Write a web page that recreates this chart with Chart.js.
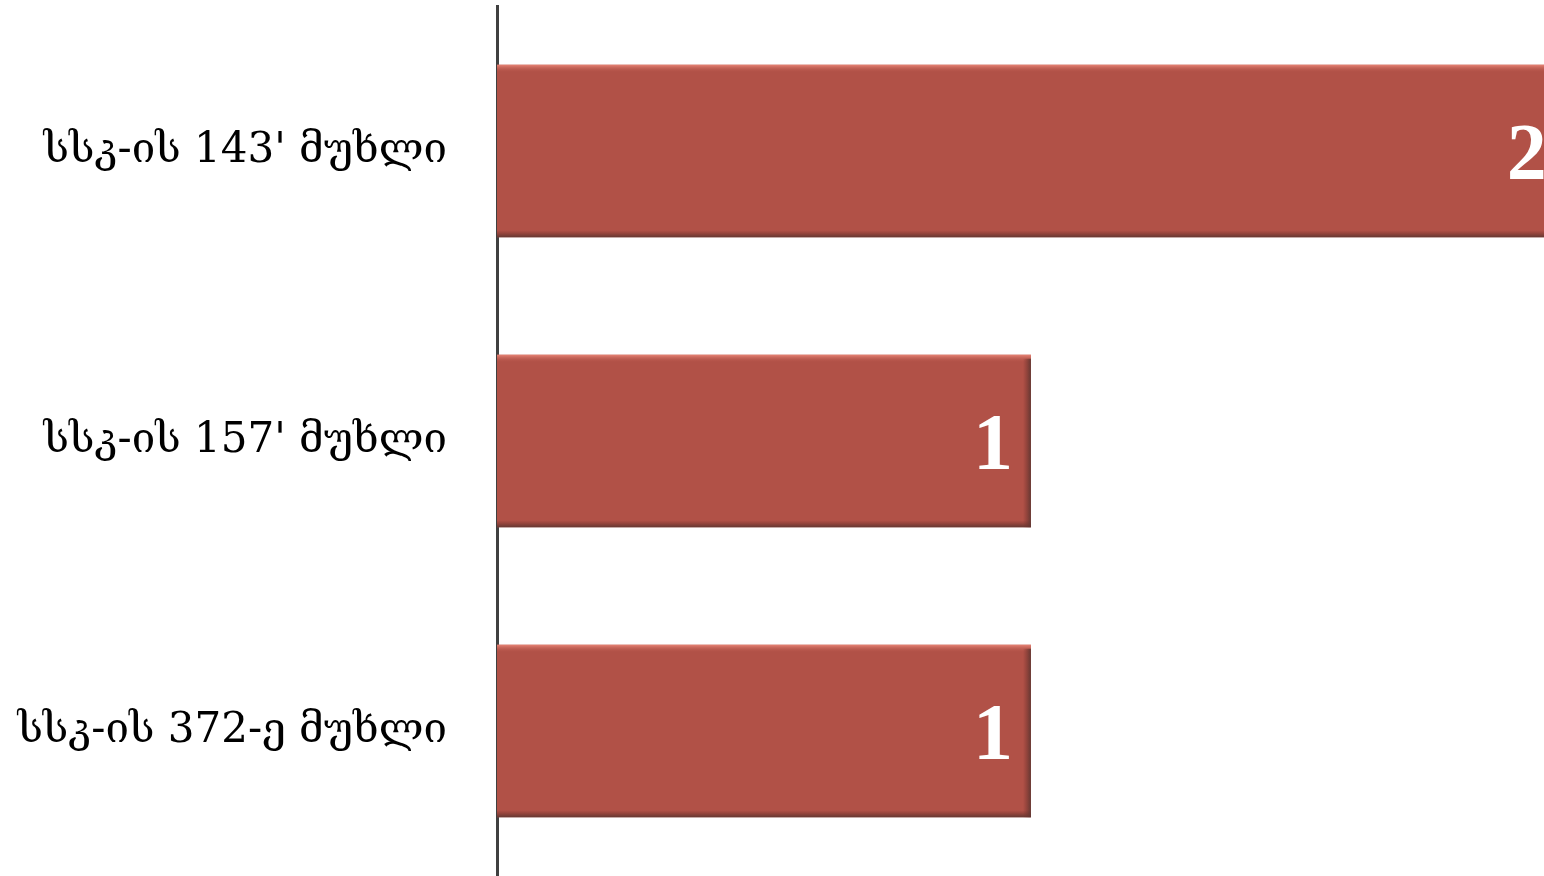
<!DOCTYPE html>
<html>
<head>
<meta charset="utf-8">
<script src="https://cdn.jsdelivr.net/npm/chart.js@4/dist/chart.umd.min.js"></script>
<style>
  html, body { margin: 0; padding: 0; background: #fff; overflow: hidden; }
  canvas { display: block; }
</style>
</head>
<body>
<canvas id="chart" width="1544" height="876"></canvas>
<script>
// --- データ ---
const categories = ["სსკ-ის 143' მუხლი", "სსკ-ის 157' მუხლი", "სსკ-ის 372-ე მუხლი"];
const counts = [2, 1, 1];

const barColor = '#B15147';

// バーの立体感（ベベル）を描くプラグイン
const bevelPlugin = {
    id: 'bevel',
    afterDatasetsDraw(chart) {
        const ctx = chart.ctx;
        const meta = chart.getDatasetMeta(0);
        ctx.save();
        meta.data.forEach(bar => {
            const x0 = bar.base, x1 = bar.x;
            const y0 = bar.y - bar.height / 2, y1 = bar.y + bar.height / 2;
            // 上側のハイライト
            let g = ctx.createLinearGradient(0, y0, 0, y0 + 8);
            g.addColorStop(0, 'rgba(235,135,120,0.95)');
            g.addColorStop(1, 'rgba(177,81,71,0)');
            ctx.fillStyle = g;
            ctx.fillRect(x0, y0, x1 - x0, 8);
            // 下側の影
            g = ctx.createLinearGradient(0, y1 - 7, 0, y1);
            g.addColorStop(0, 'rgba(120,50,44,0)');
            g.addColorStop(1, 'rgba(95,55,50,0.95)');
            ctx.fillStyle = g;
            ctx.fillRect(x0, y1 - 7, x1 - x0, 7);
            // 右側の影
            g = ctx.createLinearGradient(x1 - 8, 0, x1, 0);
            g.addColorStop(0, 'rgba(120,50,44,0)');
            g.addColorStop(1, 'rgba(95,55,50,0.95)');
            ctx.fillStyle = g;
            ctx.fillRect(x1 - 8, y0 + 4, 8, y1 - y0 - 4);
        });
        ctx.restore();
    }
};

// 値ラベル（バー内側右寄せ）
const valueLabelPlugin = {
    id: 'valueLabels',
    afterDatasetsDraw(chart) {
        const ctx = chart.ctx;
        const meta = chart.getDatasetMeta(0);
        ctx.save();
        ctx.font = 'bold 80px "Liberation Serif", serif';
        ctx.fillStyle = '#ffffff';
        ctx.textAlign = 'right';
        ctx.textBaseline = 'alphabetic';
        meta.data.forEach((bar, i) => {
            ctx.fillText(String(counts[i]), bar.x - 18, bar.y + 28);
        });
        ctx.restore();
    }
};

new Chart(document.getElementById('chart'), {
    type: 'bar',
    data: {
        labels: categories,
        datasets: [{
            data: counts,
            backgroundColor: barColor,
            borderWidth: 0,
            categoryPercentage: 1.0,
            barPercentage: 0.595
        }]
    },
    options: {
        indexAxis: 'y',
        responsive: false,
        animation: false,
        layout: { padding: { top: 6, right: 0, bottom: -4, left: 0 } },
        plugins: {
            legend: { display: false },
            tooltip: { enabled: false }
        },
        scales: {
            x: {
                display: false,
                min: 0,
                max: 1.961
            },
            y: {
                afterFit(scale) {
                    scale.width = 497;
                    scale.paddingTop = 0;
                    scale.paddingBottom = 0;
                },
                grid: { display: false, drawTicks: false },
                border: { display: true, color: '#404040', width: 3 },
                ticks: {
                    padding: 50,
                    color: '#000000',
                    font: { family: '"DejaVu Serif", serif', size: 42 }
                }
            }
        }
    },
    plugins: [bevelPlugin, valueLabelPlugin]
});
</script>
</body>
</html>
